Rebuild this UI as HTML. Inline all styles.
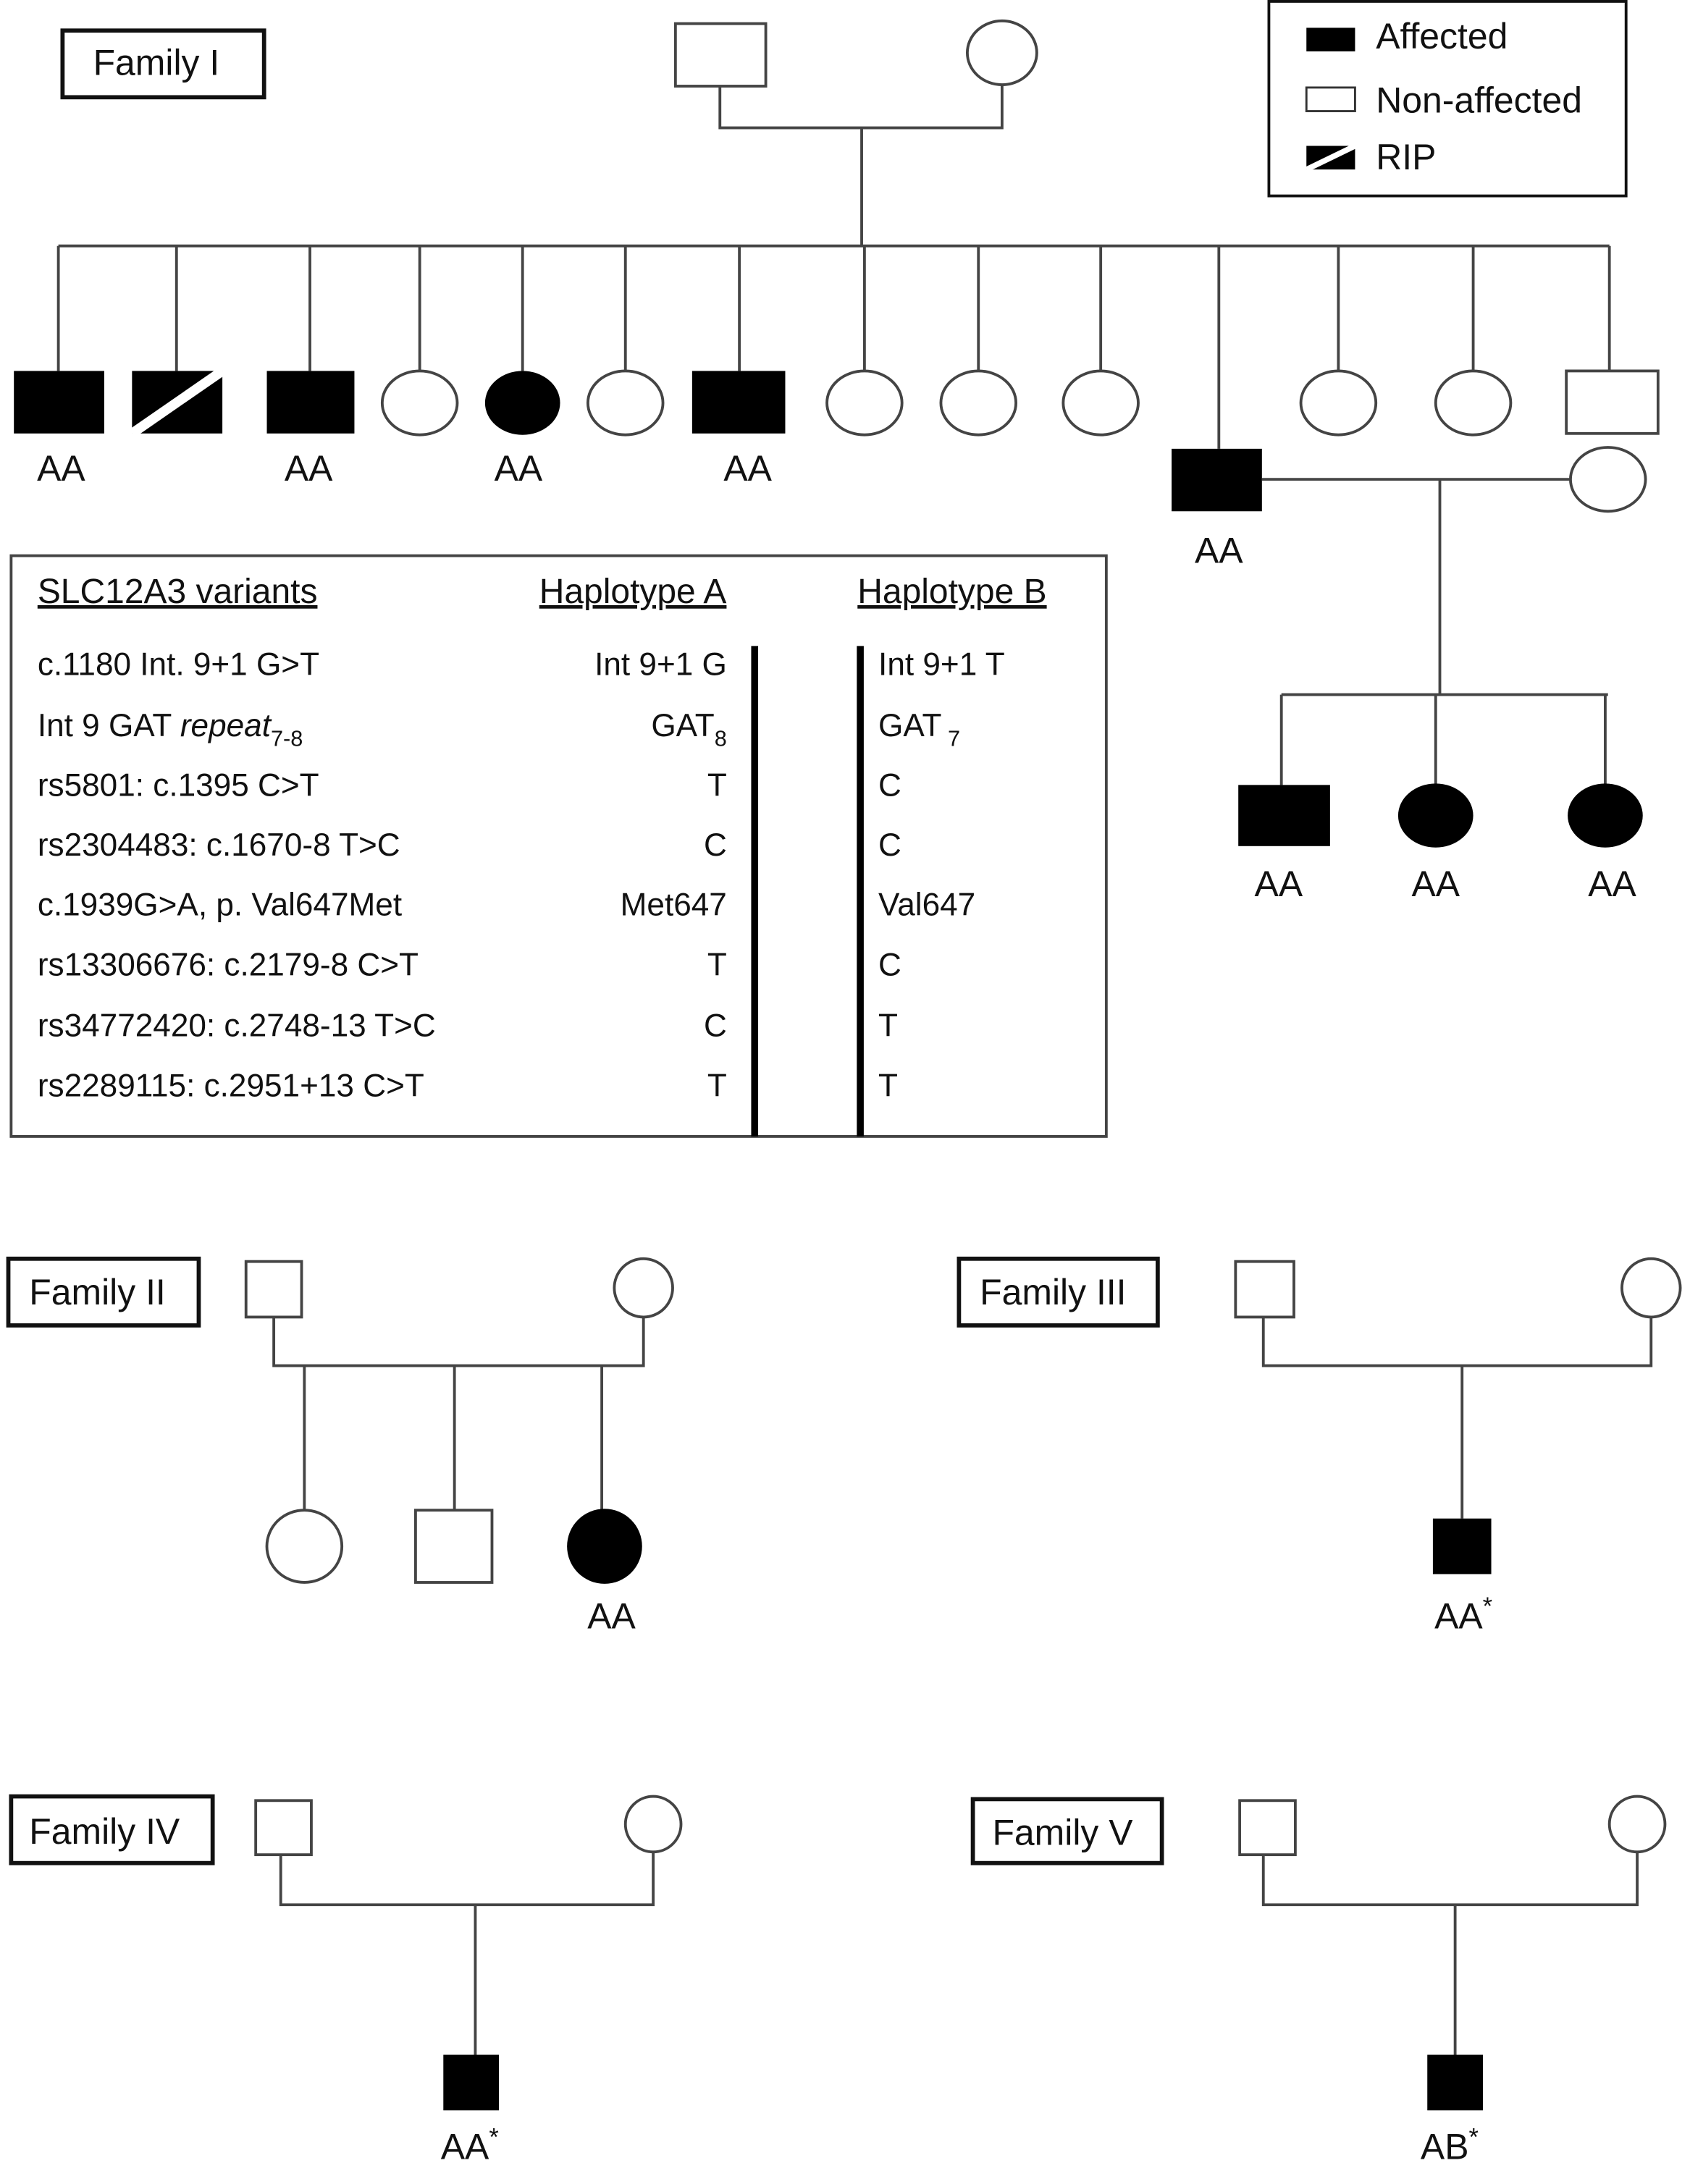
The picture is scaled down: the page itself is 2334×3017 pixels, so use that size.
<!DOCTYPE html>
<html><head><meta charset="utf-8"><style>
html,body{margin:0;padding:0;background:#fff}
svg{display:block}
text{font-family:"Liberation Sans",sans-serif;fill:#111}
</style></head><body>
<svg width="2334" height="3017" viewBox="0 0 1216 1572" preserveAspectRatio="none" xmlns="http://www.w3.org/2000/svg">
<g stroke="#444" stroke-width="2" fill="none">
<!-- Family I parents -->
<rect x="486" y="17" width="65" height="45" fill="#fff"/>
<ellipse cx="721" cy="38" rx="25" ry="23" fill="#fff"/>
<path d="M518 62V92H721V61M620 92V177M42 177H1158"/>
<path d="M42 177V267M127 177V267M223 177V267M302 177V267M376 177V267M450 177V267M532 177V267M622 177V267M704 177V267M792 177V267M877 177V323M963 177V267M1060 177V267M1158 177V267"/>
<ellipse cx="302" cy="290" rx="27" ry="23" fill="#fff"/>
<ellipse cx="450" cy="290" rx="27" ry="23" fill="#fff"/>
<ellipse cx="622" cy="290" rx="27" ry="23" fill="#fff"/>
<ellipse cx="704" cy="290" rx="27" ry="23" fill="#fff"/>
<ellipse cx="792" cy="290" rx="27" ry="23" fill="#fff"/>
<ellipse cx="963" cy="290" rx="27" ry="23" fill="#fff"/>
<ellipse cx="1060" cy="290" rx="27" ry="23" fill="#fff"/>
<rect x="1127" y="267" width="66" height="45" fill="#fff"/>
<path d="M908 345H1130M1036 345V500M922 500H1157M922 500V565M1033 500V565M1155 500V565"/>
<ellipse cx="1157" cy="345" rx="27" ry="23" fill="#fff"/>
<!-- Family II -->
<rect x="177" y="908" width="40" height="40" fill="#fff"/>
<circle cx="463" cy="927" r="21" fill="#fff"/>
<path d="M197 948V983H463V948M219 983V1087M327 983V1087M433 983V1090"/>
<ellipse cx="219" cy="1113" rx="27" ry="26" fill="#fff"/>
<rect x="299" y="1087" width="55" height="52" fill="#fff"/>
<!-- Family III -->
<rect x="889" y="908" width="42" height="40" fill="#fff"/>
<circle cx="1188" cy="927" r="21" fill="#fff"/>
<path d="M909 948V983H1188V948M1052 983V1093"/>
<!-- Family IV -->
<rect x="184" y="1296" width="40" height="39" fill="#fff"/>
<circle cx="470" cy="1313" r="20" fill="#fff"/>
<path d="M202 1335V1371H470V1333M342 1371V1479"/>
<!-- Family V -->
<rect x="892" y="1296" width="40" height="39" fill="#fff"/>
<circle cx="1178" cy="1313" r="20" fill="#fff"/>
<path d="M909 1335V1371H1178V1333M1047 1371V1479"/>
</g>
<!-- filled -->
<g fill="#000">
<rect x="10" y="267" width="65" height="45"/>
<rect x="95" y="267" width="65" height="45"/>
<rect x="192" y="267" width="63" height="45"/>
<ellipse cx="376" cy="290" rx="27" ry="23"/>
<rect x="498" y="267" width="67" height="45"/>
<rect x="843" y="323" width="65" height="45"/>
<rect x="891" y="565" width="66" height="44"/>
<ellipse cx="1033" cy="587" rx="27" ry="23"/>
<ellipse cx="1155" cy="587" rx="27" ry="23"/>
<circle cx="435" cy="1113" r="27"/>
<rect x="1031" y="1093" width="42" height="40"/>
<rect x="319" y="1479" width="40" height="40"/>
<rect x="1027" y="1479" width="40" height="40"/>
</g>
<line x1="95" y1="312" x2="160" y2="267" stroke="#fff" stroke-width="7"/>
<!-- Family boxes -->
<g fill="none" stroke="#111" stroke-width="3">
<rect x="45" y="22" width="145" height="48"/>
<rect x="6" y="906" width="137" height="48"/>
<rect x="690" y="906" width="143" height="48"/>
<rect x="8" y="1293" width="145" height="48"/>
<rect x="700" y="1295" width="136" height="46"/>
</g>
<g font-size="26">
<text x="67" y="54">Family I</text>
<text x="21" y="939">Family II</text>
<text x="705" y="939">Family III</text>
<text x="21" y="1327">Family IV</text>
<text x="714" y="1328">Family V</text>
</g>
<!-- legend -->
<rect x="913" y="1" width="257" height="140" fill="none" stroke="#111" stroke-width="2"/>
<rect x="940" y="20" width="35" height="17" fill="#000"/>
<rect x="940" y="63" width="35" height="17" fill="#fff" stroke="#333" stroke-width="1.5"/>
<rect x="940" y="105" width="35" height="17" fill="#000"/>
<line x1="940" y1="122" x2="975" y2="105" stroke="#fff" stroke-width="4"/>
<g font-size="26">
<text x="990" y="35">Affected</text>
<text x="990" y="81">Non-affected</text>
<text x="990" y="122">RIP</text>
</g>
<!-- AA labels -->
<g font-size="26" text-anchor="middle">
<text x="44" y="346">AA</text>
<text x="222" y="346">AA</text>
<text x="373" y="346">AA</text>
<text x="538" y="346">AA</text>
<text x="877" y="405">AA</text>
<text x="920" y="645">AA</text>
<text x="1033" y="645">AA</text>
<text x="1160" y="645">AA</text>
<text x="440" y="1172">AA</text>
<text x="1053" y="1172">AA<tspan font-size="18" dy="-10">*</tspan></text>
<text x="338" y="1554">AA<tspan font-size="18" dy="-10">*</tspan></text>
<text x="1043" y="1554">AB<tspan font-size="18" dy="-10">*</tspan></text>
</g>
<!-- haplotype box -->
<rect x="8" y="400" width="788" height="418" fill="none" stroke="#444" stroke-width="2"/>
<line x1="543" y1="465" x2="543" y2="818" stroke="#000" stroke-width="5"/>
<line x1="619" y1="465" x2="619" y2="818" stroke="#000" stroke-width="5"/>
<g font-size="25">
<text x="27" y="434" text-decoration="underline">SLC12A3 variants</text>
<text x="388" y="434" text-decoration="underline">Haplotype A</text>
<text x="617" y="434" text-decoration="underline">Haplotype B</text>
</g>
<g font-size="23">
<text x="27" y="486">c.1180 Int. 9+1 G&gt;T</text>
<text x="27" y="530">Int 9 GAT <tspan font-style="italic">repeat</tspan><tspan font-size="16" dy="7">7-8</tspan></text>
<text x="27" y="573">rs5801: c.1395 C&gt;T</text>
<text x="27" y="616">rs2304483: c.1670-8 T&gt;C</text>
<text x="27" y="659">c.1939G&gt;A, p. Val647Met</text>
<text x="27" y="702">rs13306676: c.2179-8 C&gt;T</text>
<text x="27" y="746">rs34772420: c.2748-13 T&gt;C</text>
<text x="27" y="789">rs2289115: c.2951+13 C&gt;T</text>
</g>
<g font-size="23" text-anchor="end">
<text x="523" y="486">Int 9+1 G</text>
<text x="523" y="530">GAT<tspan font-size="16" dy="7">8</tspan></text>
<text x="523" y="573">T</text>
<text x="523" y="616">C</text>
<text x="523" y="659">Met647</text>
<text x="523" y="702">T</text>
<text x="523" y="746">C</text>
<text x="523" y="789">T</text>
</g>
<g font-size="23">
<text x="632" y="486">Int 9+1 T</text>
<text x="632" y="530">GAT<tspan font-size="16" dy="7"> 7</tspan></text>
<text x="632" y="573">C</text>
<text x="632" y="616">C</text>
<text x="632" y="659">Val647</text>
<text x="632" y="702">C</text>
<text x="632" y="746">T</text>
<text x="632" y="789">T</text>
</g>
</svg>
</body></html>
